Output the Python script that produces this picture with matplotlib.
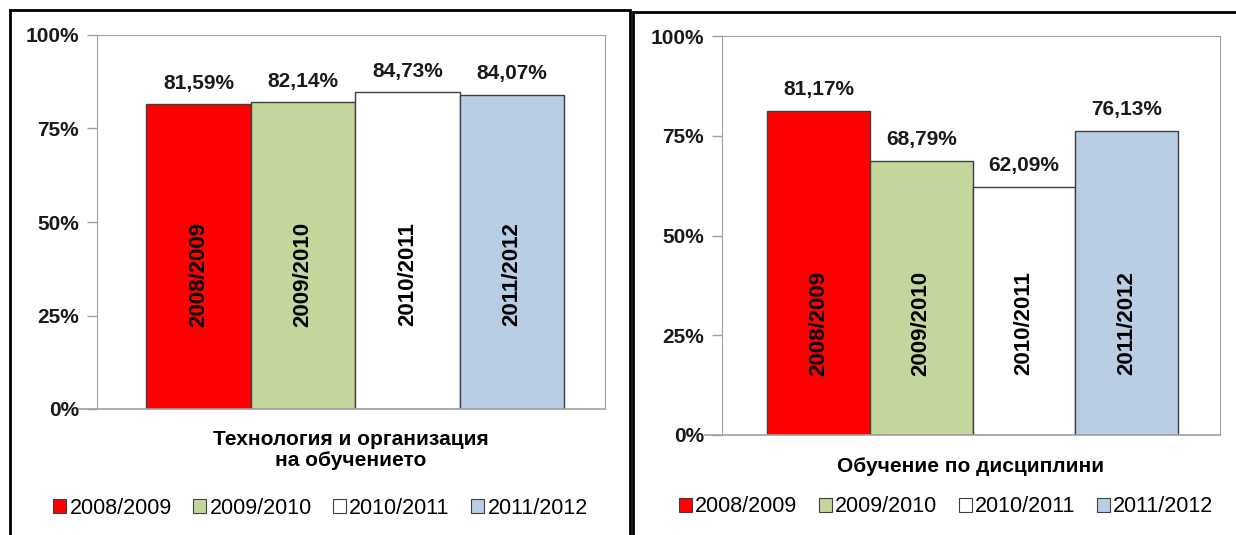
import matplotlib
matplotlib.use('Agg')
from matplotlib import pyplot as plt
from matplotlib.patches import Rectangle, Patch

plt.rcParams['font.family'] = ['Liberation Sans', 'DejaVu Sans']

years = ['2008/2009', '2009/2010', '2010/2011', '2011/2012']
colors = ['#ff0000', '#c3d69b', '#ffffff', '#b9cde5']

left_title = 'Технология и организация\nна обучението'
left_values = [81.59, 82.14, 84.73, 84.07]

right_title = 'Обучение по дисциплини'
right_values = [81.17, 68.79, 62.09, 76.13]

yticks = [0, 25, 50, 75, 100]


def fmt(v):
    return ('%.2f%%' % v).replace('.', ',')


def draw(ax, values, title, xlim, label_y, title_y, legend_xy):
    x = list(range(len(values)))
    ax.bar(x, values, width=1.0, color=colors, edgecolor='#404040', linewidth=1.0, zorder=2)
    for i, v in enumerate(values):
        ax.text(i, v + 3, fmt(v), ha='center', va='bottom', fontsize=15, fontweight='bold', color='#1a1a1a')
        ax.text(i, label_y, years[i], ha='center', va='center', rotation=90,
                fontsize=16, fontweight='bold', color='black')
    ax.set_xlim(*xlim)
    ax.set_ylim(0, 100)
    ax.set_yticks(yticks)
    ax.set_yticklabels(['%d%%' % t for t in yticks], fontsize=15, fontweight='bold', color='#1a1a1a')
    ax.set_xticks([])
    ax.tick_params(axis='y', length=7, width=1, color='#a0a0a0', pad=6)
    for s in ['left', 'top', 'right']:
        ax.spines[s].set_color('#a0a0a0')
    ax.spines['bottom'].set_visible(False)
    ax.plot([-0.035, 1.0], [0, 0], transform=ax.transAxes, color='#a0a0a0', lw=1.2, clip_on=False)
    ax.text(0.5, title_y, title, transform=ax.transAxes, ha='center', va='top',
            fontsize=15, fontweight='bold', linespacing=1.15)
    handles = [Patch(facecolor=c, edgecolor='#404040', linewidth=0.8) for c in colors]
    ax.legend(handles, years, loc='center', bbox_to_anchor=legend_xy, ncol=4,
              frameon=False, fontsize=15.5, handlelength=0.6, handleheight=0.6,
              handletextpad=0.15, columnspacing=1.0)


fig = plt.figure(figsize=(12.36, 5.35), dpi=100)

ax1 = fig.add_axes([97 / 1236, 126 / 535, 508 / 1236, 374 / 535])
draw(ax1, left_values, left_title, (-0.97, 3.89), 36, -0.055, (0.44, -0.265))

ax2 = fig.add_axes([722 / 1236, 100 / 535, 498 / 1236, 399 / 535])
draw(ax2, right_values, right_title, (-0.94, 3.91), 28, -0.055, (0.45, -0.18))

# panel frames
fig.patches.append(Rectangle((10 / 1236, -0.05), 620 / 1236, 1.05 - 10 / 535, transform=fig.transFigure,
                             fill=False, edgecolor='black', linewidth=2))
fig.patches.append(Rectangle((633 / 1236, -0.05), 0.5, 1.05 - 12 / 535, transform=fig.transFigure,
                             fill=False, edgecolor='black', linewidth=2))

fig.savefig('out.png', dpi=100)
